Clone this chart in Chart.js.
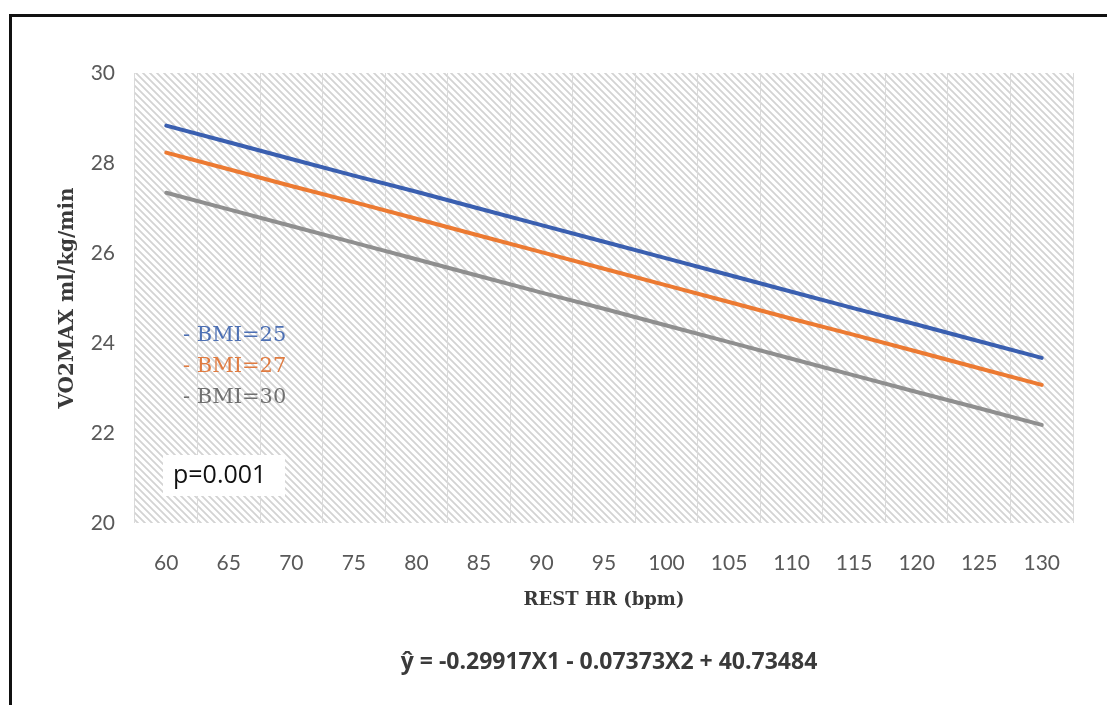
<!DOCTYPE html>
<html>
<head>
<meta charset="utf-8">
<script src="https://cdn.jsdelivr.net/npm/chart.js@4.4.1/dist/chart.umd.min.js"></script>
<style>
  html, body { margin: 0; padding: 0; background: #fff; overflow: hidden; }
  #frame { position: absolute; left: 9px; top: 14px; width: 1200px; height: 800px; border: 3px solid #111; }
  #wrap { position: absolute; left: 0; top: 0; width: 1107px; height: 705px; }
</style>
</head>
<body>
<div id="frame"></div>
<div id="wrap"><canvas id="chart"></canvas></div>
<script>
// ---- data ----
const restHr = ['60', '65', '70', '75', '80', '85', '90', '95', '100', '105', '110', '115', '120', '125', '130'];
const bmi25 = [28.83, 28.46, 28.09, 27.72, 27.36, 26.99, 26.62, 26.25, 25.88, 25.51, 25.14, 24.77, 24.41, 24.04, 23.67];
const bmi27 = [28.23, 27.86, 27.49, 27.13, 26.76, 26.39, 26.02, 25.65, 25.28, 24.91, 24.54, 24.18, 23.81, 23.44, 23.07];
const bmi30 = [27.34, 26.97, 26.60, 26.23, 25.86, 25.49, 25.12, 24.76, 24.39, 24.02, 23.65, 23.28, 22.91, 22.55, 22.18];
const seriesNames = ['BMI=25', 'BMI=27', 'BMI=30'];
const yTicks = [20, 22, 24, 26, 28, 30];
const pValue = 'p=0.001';
const equation = 'ŷ = -0.29917X1 - 0.07373X2 + 40.73484';

const lineColors = ['#3a5fb0', '#ec7a32', '#8f8f8f'];
const legendColors = ['#4d70b4', '#e07b40', '#707070'];

// diagonal hatch used by the plot area
function makeHatch() {
    const c = document.createElement('canvas');
    c.width = 7; c.height = 7;
    const g = c.getContext('2d');
    g.fillStyle = '#ffffff';
    g.fillRect(0, 0, 7, 7);
    g.strokeStyle = '#d3d3d3';
    g.lineWidth = 1.8;
    g.beginPath();
    g.moveTo(-1, -1); g.lineTo(8, 8);
    g.moveTo(-8, -1); g.lineTo(1, 8);
    g.moveTo(6, -1); g.lineTo(15, 8);
    g.stroke();
    return g.createPattern(c, 'repeat');
}

const plotBackground = {
    id: 'plotBackground',
    beforeDraw(chart) {
        const { ctx, chartArea: a } = chart;
        ctx.save();
        ctx.fillStyle = makeHatch();
        ctx.fillRect(a.left, a.top, a.right - a.left, a.bottom - a.top);
        ctx.restore();
    }
};

const annotations = {
    id: 'annotations',
    afterDraw(chart) {
        const ctx = chart.ctx;
        ctx.save();
        // legend inside the plot
        ctx.font = '21px "DejaVu Serif"';
        ctx.textBaseline = 'middle';
        ctx.textAlign = 'left';
        const legendY = [336, 367, 398];
        seriesNames.forEach((name, i) => {
            ctx.fillStyle = legendColors[i];
            ctx.fillText('- ' + name, 183, legendY[i]);
        });
        // p-value box
        ctx.fillStyle = '#ffffff';
        ctx.fillRect(163, 455, 122, 41);
        ctx.fillStyle = '#111111';
        ctx.font = '25px "Open Sans"';
        ctx.fillText(pValue, 173, 476);
        // regression equation
        ctx.font = 'bold 23px "Open Sans"';
        ctx.textAlign = 'center';
        ctx.fillStyle = '#3a3a3a';
        ctx.fillText(equation, 609, 662);
        ctx.restore();
    }
};

new Chart(document.getElementById('chart'), {
    type: 'line',
    data: {
        labels: restHr,
        datasets: [bmi25, bmi27, bmi30].map((vals, i) => ({
            label: seriesNames[i],
            data: vals,
            borderColor: lineColors[i],
            borderWidth: 4,
            borderCapStyle: 'round',
            pointRadius: 0,
            tension: 0
        }))
    },
    options: {
        responsive: true,
        maintainAspectRatio: false,
        animation: false,
        layout: { padding: { left: 56, right: 34, top: 73, bottom: 94 } },
        plugins: {
            legend: { display: false },
            tooltip: { enabled: false }
        },
        scales: {
            x: {
                offset: true,
                grid: { display: true, offset: true, color: '#dadada', drawTicks: false },
                border: { display: false },
                ticks: { color: '#595959', font: { family: 'Lato', size: 21 }, padding: 28, maxRotation: 0 },
                title: {
                    display: true,
                    text: 'REST HR (bpm)',
                    color: '#3a3a3a',
                    font: { family: 'DejaVu Serif', size: 18, weight: 'bold' },
                    padding: { top: 11, bottom: 0 }
                },
                afterFit(scale) { scale.height = 88; }
            },
            y: {
                min: 20,
                max: 30,
                afterBuildTicks(scale) { scale.ticks = yTicks.map(v => ({ value: v })); },
                grid: { display: false, drawTicks: false },
                border: { display: false },
                ticks: { color: '#595959', font: { family: 'Lato', size: 21 }, padding: 20 },
                title: {
                    display: true,
                    text: 'VO2MAX ml/kg/min',
                    color: '#3a3a3a',
                    font: { family: 'DejaVu Serif', size: 20, weight: 'bold' },
                    padding: { top: 0, bottom: 0 }
                },
                afterFit(scale) { scale.width = 79; }
            }
        }
    },
    plugins: [plotBackground, annotations]
});
</script>
</body>
</html>
